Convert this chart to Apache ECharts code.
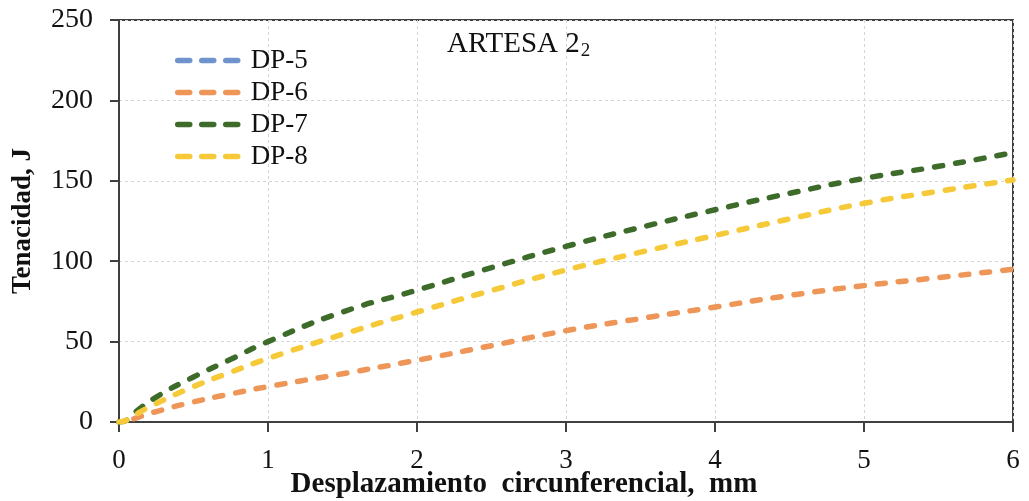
<!DOCTYPE html>
<html>
<head>
<meta charset="utf-8">
<script src="https://cdn.jsdelivr.net/npm/echarts@6/dist/echarts.min.js"></script>
<style>
  html, body { margin: 0; padding: 0; background: #fff; }
  #grafico { width: 1029px; height: 501px; }
</style>
</head>
<body>
<div id="grafico"></div>
<script>
// desplazamiento (mm) y tenacidad (J)
const desplazamiento = [0, 0.05, 0.1, 0.25, 0.5, 0.75, 1, 1.5, 2, 2.5, 3, 3.5, 4, 4.5, 5, 5.5, 6];
const dp5 = [];
const dp6 = [null, null, 2, 6.5, 12.5, 17.5, 22, 30, 38.4, 47.5, 56.8, 64.3, 71.5, 78.7, 84.8, 89.8, 95];
const dp7 = [0, 1, 5.5, 15.5, 28, 39, 50, 68.4, 82, 96, 109.2, 121, 132, 142.2, 151.5, 159, 167.5];
const dp8 = [0, 1, 4, 11.5, 22, 31, 39.5, 54.5, 68.4, 81.8, 94.5, 105.6, 116, 126.3, 136, 143.5, 150.5];
const ticksX = [0, 1, 2, 3, 4, 5, 6];

const fuente = 'Liberation Serif';

function serie(nombre, valores, color) {
  return {
    name: nombre,
    type: 'line',
    smooth: true,
    symbol: 'none',
    data: desplazamiento.map((x, i) => [x, valores[i]]).filter(p => p[1] != null && valores.length),
    lineStyle: { color: color, width: 5.5, type: [8, 13], cap: 'round' },
    itemStyle: { color: color }
  };
}

var grafico = echarts.init(document.getElementById('grafico'));
var opciones = {
  animation: false,
  backgroundColor: '#ffffff',
  textStyle: { fontFamily: fuente },
  title: {
    text: '{a|ARTESA 2}{b|2}',
    left: 442,
    top: 23,
    textStyle: {
      fontWeight: 'normal',
      rich: {
        a: { fontFamily: fuente, fontSize: 29, fontWeight: 'normal', color: '#111' },
        b: { fontFamily: fuente, fontSize: 19, fontWeight: 'normal', color: '#111', padding: [14, 0, 0, 1] }
      }
    }
  },
  legend: {
    orient: 'vertical',
    left: 170,
    top: 42,
    itemWidth: 66,
    itemHeight: 14,
    itemGap: 5,
    data: ['DP-5', 'DP-6', 'DP-7', 'DP-8'],
    itemStyle: { opacity: 0 },
    lineStyle: { width: 5.5, type: [12, 12], cap: 'round' },
    textStyle: { fontFamily: fuente, fontSize: 27, color: '#111', padding: [0, 0, 0, 2] }
  },
  grid: {
    left: 119,
    right: 16,
    top: 20,
    bottom: 79,
    containLabel: false,
    outerBoundsMode: 'none',
    show: true,
    borderColor: '#404040',
    borderWidth: 2
  },
  xAxis: {
    type: 'value',
    min: 0,
    max: 6,
    interval: 1,
    name: 'Desplazamiento  circunferencial,  mm',
    nameLocation: 'middle',
    nameGap: 48,
    nameMoveOverlap: false,
    nameTextStyle: {
      fontFamily: fuente, fontSize: 29, fontWeight: 'bold', color: '#111',
      padding: [0, 84, 0, 0]
    },
    axisLine: { show: true, lineStyle: { color: '#404040', width: 2 } },
    axisTick: { show: true, length: 10, inside: false, lineStyle: { color: '#404040', width: 2 } },
    axisLabel: {
      fontFamily: fuente, fontSize: 27, color: '#111', margin: 25,
      formatter: v => ticksX.includes(v) ? String(v) : ''
    },
    splitLine: { show: true, lineStyle: { color: '#d4d4d4', type: [3, 3], width: 1 } }
  },
  yAxis: {
    type: 'value',
    min: 0,
    max: 250,
    interval: 50,
    name: 'Tenacidad, J',
    nameLocation: 'middle',
    nameGap: 82,
    nameRotate: 90,
    nameMoveOverlap: false,
    nameTextStyle: { fontFamily: fuente, fontSize: 27, fontWeight: 'bold', color: '#111' },
    axisLine: { show: true, lineStyle: { color: '#404040', width: 2 } },
    axisTick: { show: true, length: 9, lineStyle: { color: '#404040', width: 2 } },
    axisLabel: { fontFamily: fuente, fontSize: 28, color: '#111', margin: 26 },
    splitLine: { show: true, lineStyle: { color: '#d4d4d4', type: [3, 3], width: 1 } }
  },
  series: [
    serie('DP-5', dp5, '#6f93cc'),
    serie('DP-6', dp6, '#ee9558'),
    serie('DP-7', dp7, '#3d6b2a'),
    serie('DP-8', dp8, '#f5c938')
  ]
};

grafico.setOption(opciones);
window.addEventListener('resize', () => grafico.resize());
</script>
</body>
</html>
